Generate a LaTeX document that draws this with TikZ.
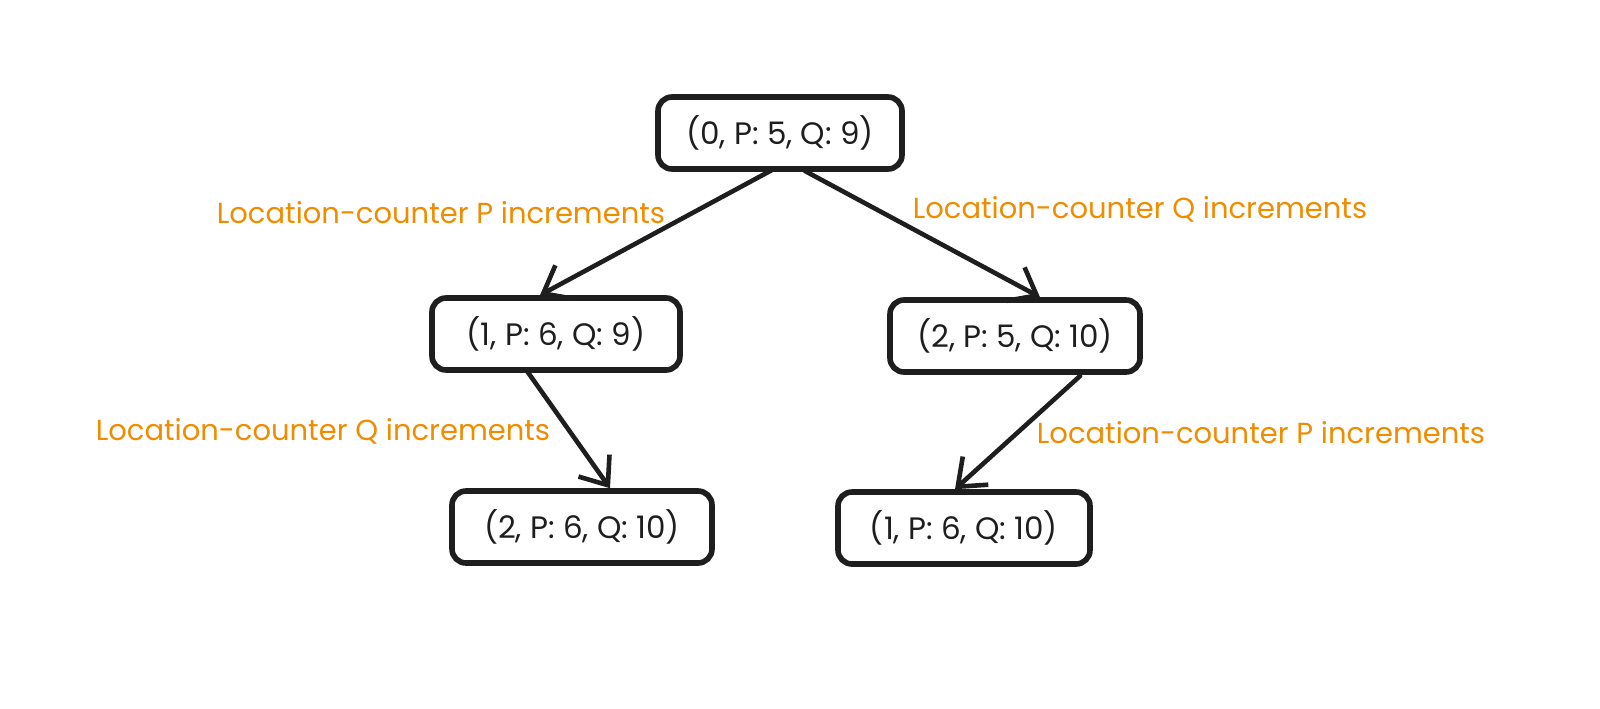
\documentclass[tikz,border=0pt]{standalone}
\usepackage{fontspec}
\setmainfont{Poppins}
\usetikzlibrary{arrows.meta}
\definecolor{lbl}{HTML}{F08C00}
\definecolor{ink}{HTML}{1E1E1E}
\tikzset{
  x=0.5pt, y=-0.5pt,
  box/.style={draw=ink, line width=2.8pt, rounded corners=7pt, minimum width=#1, minimum height=36pt, inner sep=0pt, font=\fontsize{15.5}{17}\selectfont, text=ink},
  box/.default=122pt,
  lab/.style={text=lbl, font=\fontsize{14.5}{17}\selectfont, inner sep=0pt},
  conn/.style={draw=ink, line width=2.3pt, line cap=round, -{Straight Barb[length=12pt, width=19pt, line width=2.3pt]}},
}
\begin{document}
\begin{tikzpicture}
\useasboundingbox (0,0) rectangle (1600,708);
\node[box=122pt] (top) at (780,133) {(0, P: 5, Q: 9)};
\node[box=124pt] (ml) at (556,334) {(1, P: 6, Q: 9)};
\node[box=125pt] (mr) at (1015,336) {(2, P: 5, Q: 10)};
\node[box=130pt] (bl) at (582,527) {(2, P: 6, Q: 10)};
\node[box=126pt] (br) at (964,528) {(1, P: 6, Q: 10)};
\coordinate (t1) at (772,170);
\coordinate (t2) at (805,171);
\coordinate (m1) at (527,371);
\coordinate (m2) at (1080,376);
\draw[conn] (t1) -- (ml.north -| 540,0);
\draw[conn] (t2) -- (mr.north -| 1040,0);
\draw[conn] (m1) -- (bl.north -| 610,0);
\draw[conn] (m2) -- (br.north -| 955,0);
\node[lab] (l1) at (441,213) {Location-counter P increments};
\node[lab] (l2) at (1140,209) {Location-counter Q increments};
\node[lab] (l3) at (323,431) {Location-counter Q increments};
\node[lab] (l4) at (1261,433) {Location-counter P increments};
\end{tikzpicture}
\end{document}
